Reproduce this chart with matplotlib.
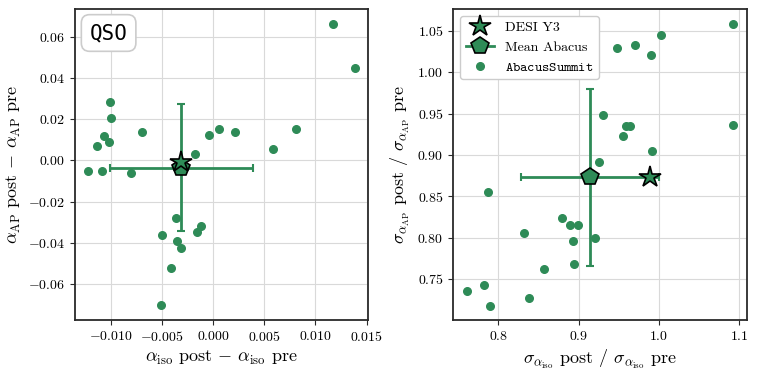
import numpy as np
import matplotlib.pyplot as plt
from matplotlib.lines import Line2D

plt.rcParams['font.family'] = 'serif'
plt.rcParams['font.serif'] = ['cmr10']
plt.rcParams['mathtext.fontset'] = 'cm'
plt.rcParams['axes.formatter.use_mathtext'] = True

green = '#2e8b57'

# panel 1: shifts
d_iso = [0.01173, 0.01384, -0.01007, -0.0100, -0.01063, -0.0102, -0.01138, -0.0070,
         -0.01219, -0.01082, -0.00805, -0.00173, -0.00043, 0.00062, 0.00215, 0.00589,
         0.00808, -0.00359, -0.00496, -0.00352, -0.00317, -0.0016, -0.00121, -0.00408,
         -0.00508]
d_ap = [0.0662, 0.0447, 0.0283, 0.0207, 0.0120, 0.0091, 0.0070, 0.0136,
        -0.0053, -0.0050, -0.0063, 0.0031, 0.0123, 0.0152, 0.0136, 0.0053,
        0.0150, -0.0281, -0.0361, -0.0392, -0.0424, -0.0347, -0.0321, -0.0523,
        -0.0704]
desi_shift = (-0.0031, -0.0006)
mean_shift = (-0.0031, -0.0035)
err_shift = (0.0070, 0.031)

# panel 2: error ratios
r_iso = [1.0927, 1.0022, 0.9702, 0.9482, 0.9902, 0.930, 0.9587, 0.964, 0.9553,
         0.9914, 0.9258, 1.0927, 0.7875, 0.8797, 0.8897, 0.8993, 0.8316, 0.8934,
         0.9200, 0.8939, 0.8569, 0.761, 0.7826, 0.8386, 0.790]
r_ap = [1.0588, 1.0452, 1.0331, 1.0298, 1.0209, 0.948, 0.9354, 0.9354, 0.9225,
        0.9045, 0.8912, 0.9362, 0.8552, 0.8237, 0.8149, 0.8157, 0.8056, 0.7964,
        0.800, 0.7677, 0.7620, 0.7355, 0.7427, 0.7274, 0.7173]
desi_ratio = (0.9889, 0.8734)
mean_ratio = (0.9142, 0.873)
err_ratio = (0.0863, 0.107)

fig = plt.figure(figsize=(7.58, 3.75), dpi=100)
ax1 = fig.add_axes([0.099, 0.147, 0.386, 0.829])
ax2 = fig.add_axes([0.598, 0.147, 0.388, 0.829])


def draw(ax, x, y, desi, mean, err):
    ax.grid(True, color='#d9d9d9', lw=0.8, zorder=0)
    ax.scatter(x, y, s=30, color=green, zorder=3)
    ax.errorbar(mean[0], mean[1], xerr=err[0], yerr=err[1], fmt='none',
                ecolor=green, elinewidth=2, capsize=3, capthick=1.5, zorder=4)
    ax.plot(mean[0], mean[1], marker='p', ms=13, color=green, mec='black',
            mew=1.2, ls='none', zorder=5)
    ax.plot(desi[0], desi[1], marker='*', ms=16, color=green, mec='black',
            mew=1.2, ls='none', zorder=6)
    for s in ax.spines.values():
        s.set_color('#2a2a2a')
        s.set_linewidth(1.3)
    ax.tick_params(labelsize=10, color='#2a2a2a')


draw(ax1, d_iso, d_ap, desi_shift, mean_shift, err_shift)
ax1.set_xlim(-0.0135, 0.0151)
ax1.set_ylim(-0.0774, 0.0734)
ax1.set_xticks([-0.010, -0.005, 0.0, 0.005, 0.010, 0.015])
ax1.set_xticklabels(['$-0.010$', '$-0.005$', '$0.000$', '$0.005$', '$0.010$', '$0.015$'])
ax1.set_yticks([-0.06, -0.04, -0.02, 0.0, 0.02, 0.04, 0.06])
ax1.set_yticklabels(['$-0.06$', '$-0.04$', '$-0.02$', '$0.00$', '$0.02$', '$0.04$', '$0.06$'])
ax1.set_xlabel(r'$\alpha_{\rm iso}$ post $-$ $\alpha_{\rm iso}$ pre', fontsize=13)
ax1.set_ylabel(r'$\alpha_{\rm AP}$ post $-$ $\alpha_{\rm AP}$ pre', fontsize=13)
ax1.text(0.05, 0.955, 'QSO', transform=ax1.transAxes, fontsize=15,
         family='DejaVu Sans Mono', va='top', ha='left',
         bbox=dict(boxstyle='round,pad=0.4', fc='white', ec='#cccccc', lw=1.2))

draw(ax2, r_iso, r_ap, desi_ratio, mean_ratio, err_ratio)
ax2.set_xlim(0.744, 1.11)
ax2.set_ylim(0.7004, 1.0766)
ax2.set_xticks([0.8, 0.9, 1.0, 1.1])
ax2.set_xticklabels(['$0.8$', '$0.9$', '$1.0$', '$1.1$'])
ax2.set_yticks([0.75, 0.80, 0.85, 0.90, 0.95, 1.00, 1.05])
ax2.set_yticklabels(['$0.75$', '$0.80$', '$0.85$', '$0.90$', '$0.95$', '$1.00$', '$1.05$'])
ax2.set_xlabel(r'$\sigma_{\alpha_{\rm iso}}$ post / $\sigma_{\alpha_{\rm iso}}$ pre', fontsize=13)
ax2.set_ylabel(r'$\sigma_{\alpha_{\rm AP}}$ post / $\sigma_{\alpha_{\rm AP}}$ pre', fontsize=13)

handles = [
    Line2D([], [], marker='*', ms=16, color=green, mec='black', mew=1.2, ls='none'),
    Line2D([], [], marker='p', ms=13, color=green, mec='black', mew=1.2, lw=2),
    Line2D([], [], marker='o', ms=5.5, color=green, ls='none'),
]
ax2.legend(handles, ['DESI Y3', 'Mean Abacus', r'$\mathtt{AbacusSummit}$'],
           loc='upper left', fontsize=10, framealpha=1, edgecolor='#cccccc',
           handlelength=2.0, borderpad=0.4, labelspacing=0.5)

fig.savefig('out.png', dpi=100)
